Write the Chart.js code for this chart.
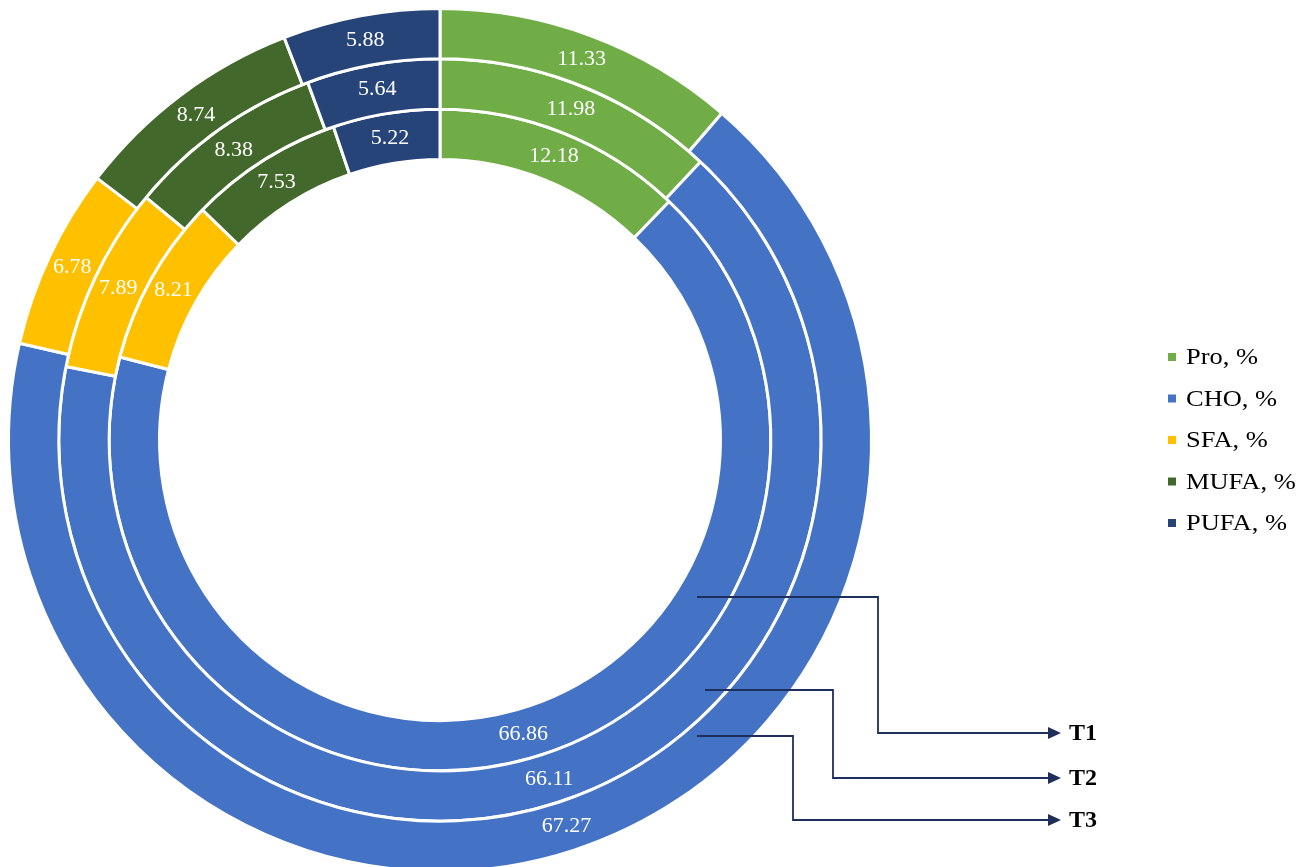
<!DOCTYPE html>
<html>
<head>
<meta charset="utf-8">
<script src="https://cdn.jsdelivr.net/npm/chart.js@4"></script>
<style>
  html, body { margin: 0; padding: 0; background: #fff; overflow: hidden; }
  #wrap { position: relative; width: 1306px; height: 867px; overflow: hidden; }
</style>
</head>
<body>
<div id="wrap"><canvas id="ringChart" width="1306" height="880"></canvas></div>
<script>
// 성분 라벨과 색상
const categories = ['Pro, %', 'CHO, %', 'SFA, %', 'MUFA, %', 'PUFA, %'];
const sliceColors = ['#70AD47', '#4472C4', '#FFC000', '#43682B', '#264478'];

// 처리구별 값 (바깥 링부터 T3, T2, T1)
const treatments = ['T3', 'T2', 'T1'];
const t3Values = [11.33, 67.27, 6.78, 8.74, 5.88];
const t2Values = [11.98, 66.11, 7.89, 8.38, 5.64];
const t1Values = [12.18, 66.86, 8.21, 7.53, 5.22];

// 화살표 라벨 (T1, T2, T3 순서)
const arrowLabels = ['T1', 'T2', 'T3'];

const serif = '"Liberation Serif", "Times New Roman", serif';

const labelPlugin = {
    id: 'ringLabels',
    afterDatasetsDraw: function(chart) {
        const ctx = chart.ctx;
        ctx.save();
        ctx.fillStyle = '#ffffff';
        ctx.font = '22px ' + serif;
        ctx.textAlign = 'center';
        ctx.textBaseline = 'middle';
        chart.data.datasets.forEach((ds, i) => {
            const meta = chart.getDatasetMeta(i);
            meta.data.forEach((arc, j) => {
                const pos = arc.tooltipPosition();
                ctx.fillText(ds.data[j].toFixed(2), pos.x, pos.y);
            });
        });
        ctx.restore();
    }
};

const sidePlugin = {
    id: 'sideParts',
    afterDraw: function(chart) {
        const ctx = chart.ctx;
        ctx.save();

        // 범례 (직접 그림, 원본 글꼴이 가로로 넓어서 살짝 늘림)
        ctx.textBaseline = 'middle';
        ctx.textAlign = 'left';
        categories.forEach((name, k) => {
            const y = 357 + k * 41.5;
            ctx.fillStyle = sliceColors[k];
            ctx.fillRect(1168, y - 4, 8, 8);
            ctx.save();
            ctx.translate(1186, y + 1);
            ctx.scale(1.15, 1);
            ctx.fillStyle = '#000';
            ctx.font = '23px ' + serif;
            ctx.fillText(name, 0, 0);
            ctx.restore();
        });

        // T1~T3 화살표
        const lines = [
            { x0: 697, y0: 597, xv: 878, y1: 733 },
            { x0: 705, y0: 690, xv: 833, y1: 778 },
            { x0: 697, y0: 736, xv: 793, y1: 820 }
        ];
        ctx.strokeStyle = '#1F2F5C';
        ctx.fillStyle = '#1F2F5C';
        ctx.lineWidth = 1.8;
        lines.forEach((l) => {
            ctx.beginPath();
            ctx.moveTo(l.x0, l.y0);
            ctx.lineTo(l.xv, l.y0);
            ctx.lineTo(l.xv, l.y1);
            ctx.lineTo(1050, l.y1);
            ctx.stroke();
            ctx.beginPath();
            ctx.moveTo(1061, l.y1);
            ctx.lineTo(1048, l.y1 - 6);
            ctx.lineTo(1048, l.y1 + 6);
            ctx.closePath();
            ctx.fill();
        });
        ctx.fillStyle = '#000';
        ctx.font = 'bold 24px ' + serif;
        arrowLabels.forEach((t, k) => {
            ctx.fillText(t, 1069, lines[k].y1 + 1);
        });
        ctx.restore();
    }
};

const datasets = [t3Values, t2Values, t1Values].map((vals, i) => ({
    label: treatments[i],
    data: vals,
    backgroundColor: sliceColors,
    borderColor: '#ffffff',
    borderWidth: 3
}));

new Chart(document.getElementById('ringChart').getContext('2d'), {
    type: 'doughnut',
    data: { labels: categories, datasets: datasets },
    options: {
        responsive: false,
        animation: false,
        cutout: '65%',
        layout: { padding: { left: 7, top: 7, right: 433, bottom: 7 } },
        plugins: {
            legend: { display: false },
            tooltip: { enabled: false }
        }
    },
    plugins: [labelPlugin, sidePlugin]
});
</script>
</body>
</html>
